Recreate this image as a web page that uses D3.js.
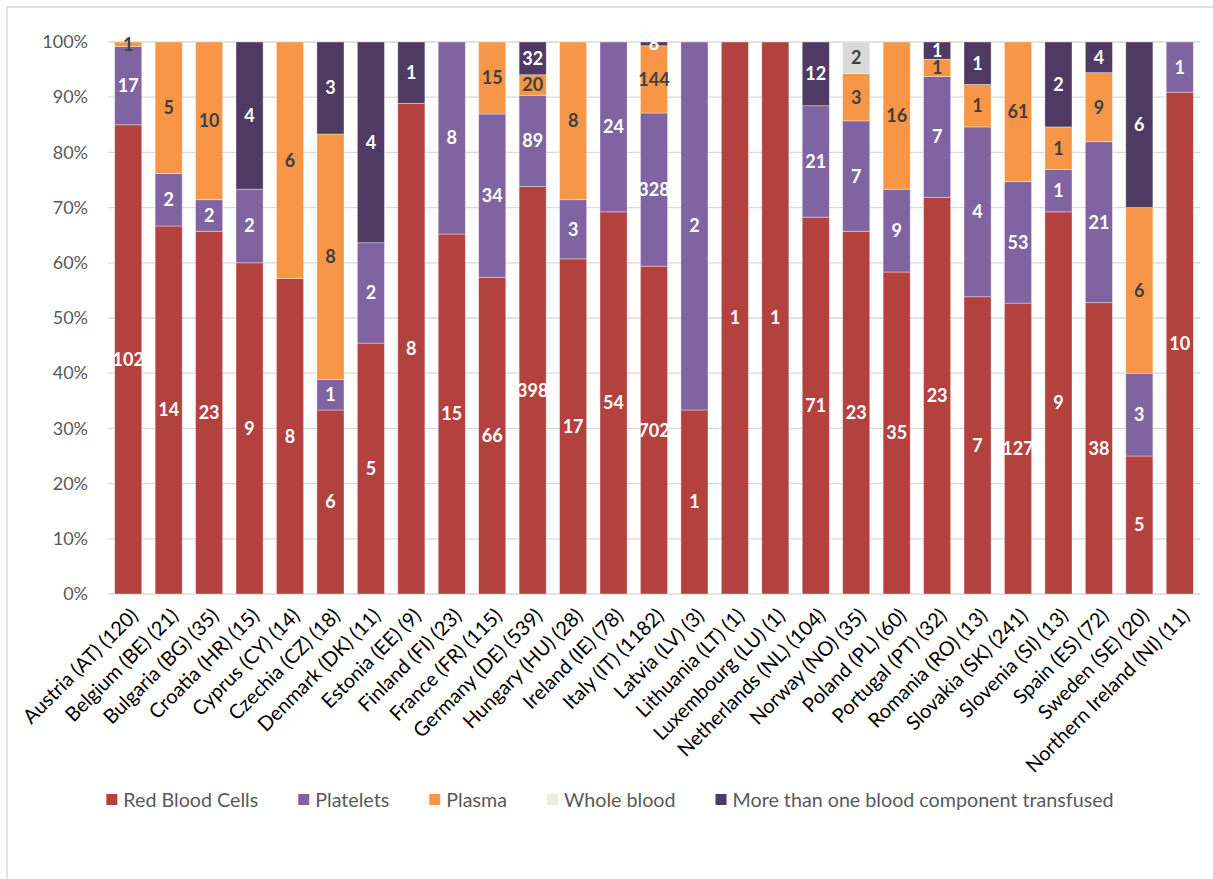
<!DOCTYPE html>
<html>
<head>
<meta charset="utf-8">
<script src="https://cdn.jsdelivr.net/npm/d3@7"></script>
<style>
  html, body { margin: 0; padding: 0; background: #fff; }
  svg { display: block; font-family: Lato, "Open Sans", sans-serif; }
</style>
</head>
<body>
<svg id="chart" width="1213" height="879"></svg>
<script>
// Countries with total number of reports in brackets
const countries = [
  "Austria (AT) (120)", "Belgium (BE) (21)", "Bulgaria (BG) (35)", "Croatia (HR) (15)",
  "Cyprus (CY) (14)", "Czechia (CZ) (18)", "Denmark (DK) (11)", "Estonia (EE) (9)",
  "Finland (FI) (23)", "France (FR) (115)", "Germany (DE) (539)", "Hungary (HU) (28)",
  "Ireland (IE) (78)", "Italy (IT) (1182)", "Latvia (LV) (3)", "Lithuania (LT) (1)",
  "Luxembourg (LU) (1)", "Netherlands (NL) (104)", "Norway (NO) (35)", "Poland (PL) (60)",
  "Portugal (PT) (32)", "Romania (RO) (13)", "Slovakia (SK) (241)", "Slovenia (SI) (13)",
  "Spain (ES) (72)", "Sweden (SE) (20)", "Northern Ireland (NI) (11)"
];

// Counts per blood component, one value per country
const redBloodCells = [102, 14, 23, 9, 8, 6, 5, 8, 15, 66, 398, 17, 54, 702, 1, 1, 1, 71, 23, 35, 23, 7, 127, 9, 38, 5, 10];
const platelets     = [17, 2, 2, 2, 0, 1, 2, 0, 8, 34, 89, 3, 24, 328, 2, 0, 0, 21, 7, 9, 7, 4, 53, 1, 21, 3, 1];
const plasma        = [1, 5, 10, 0, 6, 8, 0, 0, 0, 15, 20, 8, 0, 144, 0, 0, 0, 0, 3, 16, 1, 1, 61, 1, 9, 6, 0];
const wholeBlood    = [0, 0, 0, 0, 0, 0, 0, 0, 0, 0, 0, 0, 0, 0, 0, 0, 0, 0, 2, 0, 0, 0, 0, 0, 0, 0, 0];
const moreThanOne   = [0, 0, 0, 4, 0, 3, 4, 1, 0, 0, 32, 0, 0, 8, 0, 0, 0, 12, 0, 0, 1, 1, 0, 2, 4, 6, 0];

const seriesNames = ["Red Blood Cells", "Platelets", "Plasma", "Whole blood", "More than one blood component transfused"];
const seriesValues = [redBloodCells, platelets, plasma, wholeBlood, moreThanOne];
const seriesColors = ["#B3423F", "#8064A2", "#F79646", "#D9D9D9", "#4F3A63"];
const legendColors = ["#B3423F", "#8064A2", "#F79646", "#EEECE1", "#4F3A63"];
const labelColors  = ["#ffffff", "#ffffff", "#404040", "#404040", "#ffffff"];
const yTicks = [0, 0.1, 0.2, 0.3, 0.4, 0.5, 0.6, 0.7, 0.8, 0.9, 1.0];

const svg = d3.select("#chart");
const margin = { left: 108, right: 13, top: 42, bottom: 285 };
const W = 1213, H = 879;
const x0 = margin.left, x1 = W - margin.right;
const yTop = margin.top, yBot = H - margin.bottom;

// Chart frame
svg.append("rect")
  .attr("x", 7).attr("y", 7).attr("width", W + 10).attr("height", H + 10)
  .attr("fill", "#fff").attr("stroke", "#D9D9D9").attr("stroke-width", 1.5);

// Build rows for the stack (shares of each country's total)
const rows = countries.map((c, i) => {
  const row = { country: c };
  const total = d3.sum(seriesValues, s => s[i]);
  seriesNames.forEach((n, k) => { row[n] = seriesValues[k][i] / total; row[n + "_n"] = seriesValues[k][i]; });
  return row;
});
const stack = d3.stack().keys(seriesNames)(rows);

const x = d3.scaleBand().domain(countries).range([x0, x1]).paddingInner(0.33).paddingOuter(0.165);
const y = d3.scaleLinear().domain([0, 1]).range([yBot, yTop]);

// Gridlines
svg.append("g").selectAll("line").data(yTicks).join("line")
  .attr("x1", x0).attr("x2", x1)
  .attr("y1", d => y(d)).attr("y2", d => y(d))
  .attr("stroke", "#D9D9D9").attr("stroke-width", 1.3);

// Y axis labels
const yAxis = d3.axisLeft(y).tickValues(yTicks).tickFormat(d3.format(".0%")).tickSize(0).tickPadding(20);
const yg = svg.append("g").attr("transform", `translate(${x0},0)`).call(yAxis);
yg.select(".domain").remove();
yg.selectAll("text").attr("fill", "#595959").style("font-size", "18px").style("font-family", "Lato, sans-serif");

// Bars
const layers = svg.append("g").selectAll("g").data(stack).join("g")
  .attr("fill", (d, i) => seriesColors[i]);
layers.selectAll("rect").data(d => d).join("rect")
  .attr("x", d => x(d.data.country))
  .attr("width", x.bandwidth())
  .attr("y", d => y(d[1]))
  .attr("height", d => Math.max(0, y(d[0]) - y(d[1])))
  .attr("stroke", "#ffffff").attr("stroke-opacity", 0.45).attr("stroke-width", 0.8);

// Value labels
stack.forEach((layer, k) => {
  svg.append("g").selectAll("text").data(layer.filter(d => d.data[seriesNames[k] + "_n"] > 0)).join("text")
    .attr("x", d => x(d.data.country) + x.bandwidth() / 2)
    .attr("y", d => y((d[0] + d[1]) / 2))
    .attr("dy", "0.36em")
    .attr("text-anchor", "middle")
    .attr("fill", labelColors[k])
    .style("font-size", "18px").style("font-weight", "bold")
    .text(d => d.data[seriesNames[k] + "_n"]);
});

// X axis labels, rotated
const xg = svg.append("g");
xg.selectAll("text").data(countries).join("text")
  .attr("transform", d => `translate(${x(d) + x.bandwidth() / 2 + 6},${yBot + 18}) rotate(-45)`)
  .attr("text-anchor", "end")
  .attr("dy", "0.35em")
  .attr("fill", "#000")
  .style("font-size", "20px")
  .text(d => d);

// Legend
const legend = svg.append("g");
const items = legend.selectAll("g").data(seriesNames).join("g");
items.append("rect").attr("width", 11).attr("height", 11).attr("y", -6)
  .attr("fill", (d, i) => legendColors[i]);
items.append("text").attr("x", 17).attr("dy", "0.35em")
  .attr("fill", "#595959").style("font-size", "19.7px").text(d => d);
let cursor = 0;
items.each(function () {
  const w = this.getBBox().width;
  d3.select(this).attr("transform", `translate(${cursor},0)`);
  cursor += w + 40;
});
const legendWidth = cursor - 40;
legend.attr("transform", `translate(${610 - legendWidth / 2},800)`);
</script>
</body>
</html>
